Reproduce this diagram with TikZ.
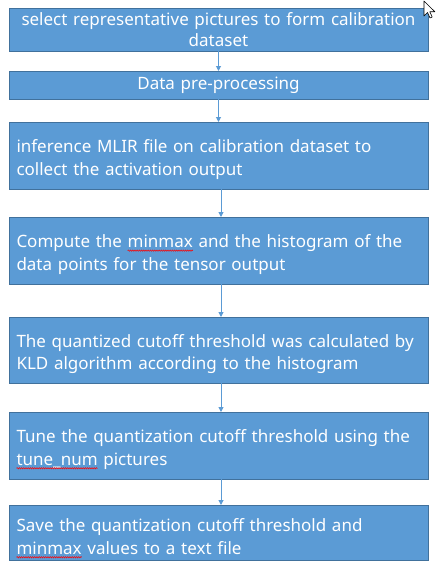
\documentclass[tikz,border=0pt]{standalone}
\usepackage{fontspec}
\setmainfont{Noto Sans}
\usepackage{xcolor}
\usetikzlibrary{arrows.meta,decorations.pathmorphing}
\definecolor{boxfill}{HTML}{5B9BD5}
\definecolor{boxline}{HTML}{41719C}
\newsavebox\wavebox
\newcommand\redwave[1]{\leavevmode\sbox\wavebox{#1}\rlap{\usebox\wavebox}\tikz[baseline=0pt]{\useasboundingbox (0pt,0pt) rectangle (\wd\wavebox,0pt);
  \draw[red, line width=0.5pt, decorate, decoration={snake, amplitude=0.7pt, segment length=2.2pt}] (0pt,-3pt) -- (\wd\wavebox,-3pt);}}
\newcommand\topstrut{\rule{0pt}{21pt}}
\tikzset{
  flowbox/.style={draw=boxline, line width=0.8pt, fill=boxfill, text=white,
    minimum width=419pt, text width=404pt, inner sep=0pt, outer sep=0pt,
    font=\fontsize{17}{22.7}\selectfont, anchor=north west},
  arr/.style={draw=boxfill, line width=1pt, -{Triangle[length=5pt,width=5pt]}},
}
\begin{document}
\begin{tikzpicture}[x=1pt,y=-1pt]
\useasboundingbox[fill=white] (0,0) rectangle (437,566);
\node[flowbox, minimum height=43pt, align=center] (b1) at (9,8) {select representative pictures to form calibration\\[-2pt]dataset};
\node[flowbox, minimum height=28pt, align=center] (b2) at (9,71) {Data pre-processing};
\node[flowbox, minimum height=67pt, align=left] (b3) at (9,122) {\topstrut inference MLIR file on calibration dataset to\\collect the activation output};
\node[flowbox, minimum height=67pt, align=left] (b4) at (9,217) {\topstrut Compute the \redwave{minmax} and the histogram of the\\data points for the tensor output};
\node[flowbox, minimum height=66pt, align=left] (b5) at (9,317) {\topstrut The quantized cutoff threshold was calculated by\\KLD algorithm according to the histogram};
\node[flowbox, minimum height=67pt, align=left] (b6) at (9,412) {\topstrut Tune the quantization cutoff threshold using the\\\redwave{tune\_num} pictures};
\node[flowbox, minimum height=55pt, align=left] (b7) at (9,505) {\topstrut Save the quantization cutoff threshold and\\\redwave{minmax} values to a text file};
\draw[arr] (b1.south) -- (b2.north);
\draw[arr] (b2.south) -- (b3.north);
\draw[arr] ([xshift=2.5pt]b3.south) -- ([xshift=2.5pt]b4.north);
\draw[arr] ([xshift=2.5pt]b4.south) -- ([xshift=2.5pt]b5.north);
\draw[arr] ([xshift=2.5pt]b5.south) -- ([xshift=2.5pt]b6.north);
\draw[arr] ([xshift=2.5pt]b6.south) -- ([xshift=2.5pt]b7.north);
\coordinate (cur) at (424,1);
\draw[fill=white, draw=black, line width=0.6pt, line join=round]
  (cur) -- ++(0,15) -- ++(3.5,-3.5) -- ++(2.5,5.5) -- ++(2.2,-1) -- ++(-2.4,-5.3) -- ++(5,0) -- cycle;
\end{tikzpicture}
\end{document}
